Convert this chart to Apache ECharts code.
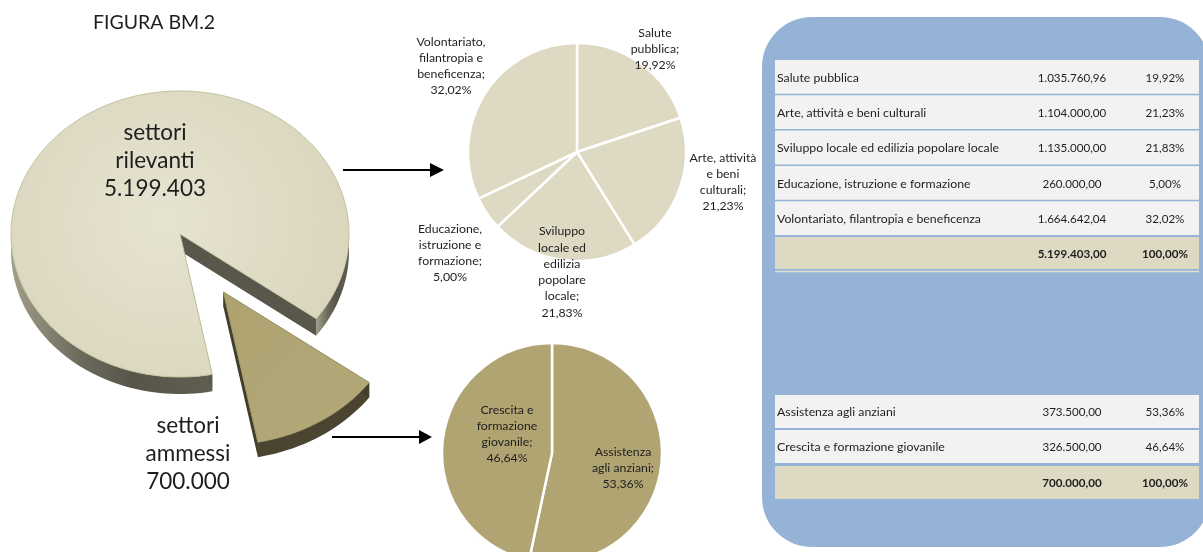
<!DOCTYPE html>
<html>
<head>
<meta charset="utf-8">
<script src="https://cdn.jsdelivr.net/npm/echarts@6/dist/echarts.min.js"></script>
<style>
  html, body { margin: 0; padding: 0; background: #ffffff; }
  #chart { width: 1203px; height: 552px; }
</style>
</head>
<body>
<div id="chart"></div>
<script>
// ---- data ----
const titleText = 'FIGURA BM.2';

const groupNames = ['settori rilevanti', 'settori ammessi'];
const groupValues = [5199403, 700000];

const rilevantiNames = [
  'Salute pubblica',
  'Arte, attività e beni culturali',
  'Sviluppo locale ed edilizia popolare locale',
  'Educazione, istruzione e formazione',
  'Volontariato, filantropia e beneficenza'
];
const rilevantiValues = [1035760.96, 1104000.00, 1135000.00, 260000.00, 1664642.04];
const rilevantiPieLabels = [
  'Salute\npubblica',
  'Arte, attività\ne beni\nculturali',
  'Sviluppo\nlocale ed\nedilizia\npopolare\nlocale',
  'Educazione,\nistruzione e\nformazione',
  'Volontariato,\nfilantropia e\nbeneficenza'
];

const ammessiNames = ['Assistenza agli anziani', 'Crescita e formazione giovanile'];
const ammessiValues = [373500.00, 326500.00];
const ammessiPieLabels = ['Assistenza\nagli anziani', 'Crescita e\nformazione\ngiovanile'];

// ---- helpers ----
const FONT = 'Lato, "Open Sans", "DejaVu Sans", sans-serif';
const TEXT = '#1e1e1e';

function fmtIt(v, dec) {
  const parts = v.toFixed(dec).split('.');
  const int = parts[0].replace(/\B(?=(\d{3})+(?!\d))/g, '.');
  return parts.length > 1 ? int + ',' + parts[1] : int;
}
const sum = arr => arr.reduce((a, b) => a + b, 0);
const pct = (v, total) => fmtIt(v / total * 100, 2) + '%';

// ---- tilted 3D pie (settori rilevanti / ammessi) ----
const PIE3D = { cx: 180, cy: 234, rx: 169, ry: 143, start: 79 };
const bigTotal = sum(groupValues);
const bigAngles = [];
(function () {
  let acc = PIE3D.start;
  groupValues.forEach(v => {
    const sweep = v / bigTotal * 360;
    bigAngles.push([acc, acc + sweep]);
    acc += sweep;
  });
})();

const sliceLook = [
  {
    explode: 0, scale: 1, depth: 17,
    top: { type: 'radial', x: 0.45, y: 0.45, r: 0.6,
      colorStops: [{ offset: 0, color: '#e6e3d1' }, { offset: 1, color: '#dbd7bf' }] },
    side: { type: 'linear', x: 0, y: 0, x2: 1, y2: 0,
      colorStops: [{ offset: 0, color: '#a19e8b' }, { offset: 0.35, color: '#6b695a' },
                   { offset: 0.6, color: '#57554a' }, { offset: 1, color: '#605e50' }] },
    cut: '#59574b', stroke: '#c2c39c',
    label: [155, 161]
  },
  {
    explode: 0.48, scale: 1.07, depth: 15,
    top: { type: 'linear', x: 0, y: 0, x2: 1, y2: 1,
      colorStops: [{ offset: 0, color: '#aea270' }, { offset: 1, color: '#b3a979' }] },
    side: '#4a4431',
    cut: '#433d2b', stroke: '#9d9866',
    label: [188, 454]
  }
];

function renderPie3d(params, api) {
  const i = params.dataIndex;
  const look = sliceLook[i];
  const a0 = bigAngles[i][0], a1 = bigAngles[i][1];
  const mid = (a0 + a1) / 2 * Math.PI / 180;
  const ox = PIE3D.cx + look.explode * PIE3D.rx * Math.cos(mid);
  const oy = PIE3D.cy + look.explode * PIE3D.ry * Math.sin(mid);
  const rx = PIE3D.rx * look.scale, ry = PIE3D.ry * look.scale;
  const pt = (deg, dy) => {
    const r = deg * Math.PI / 180;
    return [ox + rx * Math.cos(r), oy + ry * Math.sin(r) + (dy || 0)];
  };
  const arc = (from, to, dy) => {
    const n = Math.max(2, Math.ceil(Math.abs(to - from) / 2));
    const pts = [];
    for (let k = 0; k <= n; k++) pts.push(pt(from + (to - from) * k / n, dy));
    return pts;
  };
  const children = [];
  // outer rim, only the part facing the viewer
  [[0, 180], [360, 540]].forEach(([lo, hi]) => {
    const s = Math.max(a0, lo), e = Math.min(a1, hi);
    if (e > s) {
      children.push({
        type: 'polygon',
        shape: { points: arc(s, e, 0).concat(arc(e, s, look.depth)) },
        style: { fill: look.side }
      });
    }
  });
  // radial cut faces
  [a0, a1].forEach(a => {
    const p = pt(a, 0);
    children.push({
      type: 'polygon',
      shape: { points: [[ox, oy], p, [p[0], p[1] + look.depth], [ox, oy + look.depth]] },
      style: { fill: look.cut }
    });
  });
  // top face
  children.push({
    type: 'polygon',
    shape: { points: [[ox, oy]].concat(arc(a0, a1, 0)) },
    style: { fill: look.top, stroke: look.stroke, lineWidth: 1 }
  });
  // label: name + value
  const v = api.value(0);
  children.push({
    type: 'text',
    x: look.label[0], y: look.label[1],
    style: {
      text: groupNames[i].replace(' ', '\n') + '\n' + fmtIt(v, 0),
      fill: TEXT, fontFamily: FONT, fontSize: 22.5, lineHeight: 28,
      align: 'center', verticalAlign: 'middle'
    }
  });
  return { type: 'group', children };
}

// ---- tables ----
function tableRenderer(names, values, layout) {
  const total = sum(values);
  return function (params, api) {
    const i = params.dataIndex;
    const isTotal = i === names.length;
    const y = layout.top + i * layout.pitch + (isTotal ? layout.totalShift : 0);
    const h = isTotal ? layout.totalH : layout.rowH;
    const v = api.value(0);
    const cy = y + h / 2 + 1;
    const txt = (x, s, align, bold, size) => ({
      type: 'text', x: x, y: cy,
      style: {
        text: s, fill: TEXT, fontFamily: FONT, fontSize: size,
        fontWeight: bold ? 'bold' : 'normal', align: align, verticalAlign: 'middle'
      }
    });
    const children = [
      { type: 'rect', shape: { x: layout.left, y: y, width: layout.width, height: h },
        style: { fill: isTotal ? '#ddd9c3' : '#f2f2f2' } }
    ];
    if (!isTotal) children.push(txt(layout.left + 2, names[i], 'left', false, 12.3));
    children.push(txt(layout.valueX, fmtIt(v, 2), 'center', isTotal, 11.6));
    children.push(txt(layout.pctX, pct(v, total), 'center', isTotal, 11.6));
    if (isTotal && layout.underline) {
      children.push({ type: 'line', shape: { x1: layout.left, y1: y + h + 2.5, x2: layout.left + layout.width, y2: y + h + 2.5 },
        style: { stroke: '#e4e2d2', lineWidth: 1.5 } });
    }
    return { type: 'group', children };
  };
}

const topTableLayout = { left: 775, width: 424, top: 60, pitch: 35.3, rowH: 33.8,
  totalShift: 0.5, totalH: 32, valueX: 1072, pctX: 1165, underline: true };
const bottomTableLayout = { left: 775, width: 424, top: 395, pitch: 35, rowH: 33,
  totalShift: 1, totalH: 33, valueX: 1072, pctX: 1165, underline: false };

// ---- flat pies ----
const rilevantiTotal = sum(rilevantiValues);
const ammessiTotal = sum(ammessiValues);
const rilevantiLabelPos = [[655, 49], [723, 182], [562, 272], [450, 253], [451, 66]];
const ammessiLabelPos = [[623, 468], [507, 434]];

function flatPie(center, radius, color, values, names, labels, labelPos, total) {
  return {
    type: 'pie',
    center: center,
    radius: [0, radius],
    startAngle: 90,
    clockwise: true,
    silent: true,
    avoidLabelOverlap: false,
    itemStyle: { color: color, borderColor: '#ffffff', borderWidth: 2.5 },
    emphasis: { disabled: true },
    label: {
      show: true,
      position: 'outside',
      formatter: p => labels[p.dataIndex] + ';\n' + pct(p.value, total),
      color: TEXT, fontFamily: FONT, fontSize: 12.3, lineHeight: 16.3
    },
    labelLine: { show: false },
    labelLayout: p => ({
      x: labelPos[p.dataIndex][0], y: labelPos[p.dataIndex][1],
      align: 'center', verticalAlign: 'middle'
    }),
    data: values.map((v, i) => ({ name: names[i], value: v }))
  };
}

const chart = echarts.init(document.getElementById('chart'), null, { renderer: 'canvas' });
chart.setOption({
  backgroundColor: '#ffffff',
  animation: false,
  graphic: [
    { type: 'rect', z: 0, shape: { x: 762, y: 17, width: 448, height: 530, r: 50 },
      style: { fill: '#95b3d7' } },
    { type: 'text', z: 5, x: 93, y: 23,
      style: { text: titleText, fill: TEXT, fontFamily: FONT, fontSize: 19.5, align: 'left', verticalAlign: 'middle' } },
    // arrows from the 3D pie to the detail pies
    { type: 'line', z: 5, shape: { x1: 343, y1: 170, x2: 431, y2: 170 }, style: { stroke: '#000', lineWidth: 2 } },
    { type: 'polygon', z: 5, shape: { points: [[430, 163], [444, 170], [430, 177]] }, style: { fill: '#000' } },
    { type: 'line', z: 5, shape: { x1: 332, y1: 437, x2: 420, y2: 437 }, style: { stroke: '#000', lineWidth: 2 } },
    { type: 'polygon', z: 5, shape: { points: [[419, 430], [432, 437], [419, 444]] }, style: { fill: '#000' } }
  ],
  series: [
    {
      type: 'custom',
      coordinateSystem: 'none',
      silent: true,
      renderItem: renderPie3d,
      data: groupValues.map(v => [v])
    },
    flatPie([577, 152], 109, '#ddd9c3', rilevantiValues, rilevantiNames, rilevantiPieLabels, rilevantiLabelPos, rilevantiTotal),
    flatPie([552, 453], 110, '#b0a473', ammessiValues, ammessiNames, ammessiPieLabels, ammessiLabelPos, ammessiTotal),
    {
      type: 'custom',
      coordinateSystem: 'none',
      silent: true,
      renderItem: tableRenderer(rilevantiNames, rilevantiValues, topTableLayout),
      data: rilevantiValues.map(v => [v]).concat([[rilevantiTotal]])
    },
    {
      type: 'custom',
      coordinateSystem: 'none',
      silent: true,
      renderItem: tableRenderer(ammessiNames, ammessiValues, bottomTableLayout),
      data: ammessiValues.map(v => [v]).concat([[ammessiTotal]])
    }
  ]
});
</script>
</body>
</html>
